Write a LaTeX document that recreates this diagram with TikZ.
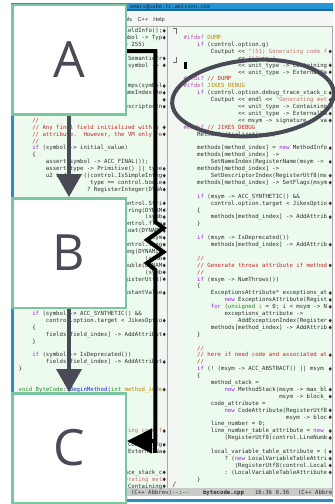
\documentclass[tikz,border=0pt]{standalone}
\usepackage{fontspec}
\setmonofont{DejaVu Sans Mono}
\newfontfamily\menufont{Liberation Sans}
\newfontfamily\letterfont{Open Sans}
\usetikzlibrary{arrows.meta}
\definecolor{mint}{HTML}{EDFAEE}
\definecolor{fringe}{HTML}{F3F5F3}
\definecolor{framebl}{HTML}{2A8DCB}
\definecolor{titlebl}{HTML}{2794D6}
\definecolor{menubg}{HTML}{F4F6F4}
\definecolor{modebg}{HTML}{C9CBC9}
\definecolor{divgray}{HTML}{A8ACA8}
\definecolor{codefg}{HTML}{2E2E2E}
\definecolor{kwc}{HTML}{A020F0}
\definecolor{ppc}{HTML}{C050C0}
\definecolor{vnc}{HTML}{B8860B}
\definecolor{cmc}{HTML}{C02828}
\definecolor{stc}{HTML}{C87070}
\definecolor{tyc}{HTML}{228B22}
\definecolor{fnc}{HTML}{2020E0}
\definecolor{boxgreen}{HTML}{78C79E}
\definecolor{ovgray}{HTML}{4A4A57}
\newcommand\kwd[1]{\textcolor{kwc}{#1}}
\newcommand\prep[1]{\textcolor{ppc}{#1}}
\newcommand\vnm[1]{\textcolor{vnc}{#1}}
\newcommand\cmt[1]{\textcolor{cmc}{#1}}
\newcommand\strg[1]{\textcolor{stc}{#1}}
\newcommand\typ[1]{\textcolor{tyc}{#1}}
\newcommand\fnm[1]{\textcolor{fnc}{#1}}
\newcommand\Lr[3]{\node[code] (L#1) at ({18.6+3.42*#2},{32.6+6.9*#1}) {#3};}
\newcommand\Rr[3]{\node[code] (R#1) at ({183.5+3.42*#2},{32.6+6.9*#1}) {#3};}
\newcommand\Ld[1]{\fill[codefg] (164.2,{30.8+6.9*#1}) +(-1.5,0) -- +(0,-1.9) -- +(1.5,0) -- +(0,1.9) -- cycle;}
\newcommand\Rd[1]{\fill[codefg] (330.2,{30.8+6.9*#1}) +(-1.5,0) -- +(0,-1.9) -- +(1.5,0) -- +(0,1.9) -- cycle;}
\tikzset{
  code/.style={anchor=base west, inner sep=0, outer sep=0, text=codefg,
    font=\ttfamily\fontsize{5.68}{6.9}\selectfont\frenchspacing},
  lbox/.style={draw=boxgreen, line width=2.5, fill=white, minimum width=113.5,
    minimum height=109.5, inner sep=0, text=ovgray,
    font=\letterfont\fontsize{50}{50}\selectfont},
  greyarrow/.style={draw=ovgray, line width=3.5, -{Triangle[length=23pt,width=25pt]}},
  blackline/.style={draw=black, line width=4},
  ringline/.style={draw=ovgray, line width=4},
}
\begin{document}
\begin{tikzpicture}[x=1pt,y=-1pt]
\useasboundingbox (0,0) rectangle (335,504);
\fill[white] (0,0) rectangle (335,504);
% frame
\fill[framebl] (11,3) rectangle (14,502);
\fill[framebl] (11,499) rectangle (333,502);
\fill[titlebl] (11,3) rectangle (333,10);
\fill[titlebl!70!black] (11,9.4) rectangle (333,10.6);
\fill[menubg] (14,10.6) rectangle (333,26);
\draw[divgray, line width=0.8] (14,26.4) -- (333,26.4);
\fill[fringe] (14,27) rectangle (17,488);
\fill[mint] (17,27) rectangle (161,488);
\fill[fringe] (161,27) rectangle (166.7,488);
\fill[divgray] (166.7,27) rectangle (168.3,488);
\fill[fringe] (168.3,27) rectangle (180,488);
\fill[mint] (180,27) rectangle (328.5,488);
\fill[fringe] (328.5,27) rectangle (331.5,488);
\draw[divgray, line width=0.8] (331.9,27) -- (331.9,497);
\fill[modebg] (14,488) rectangle (332,496);
\node[anchor=base, inner sep=0, text=black!85, font=\ttfamily\fontsize{5.3}{6}\selectfont] (title) at (170,8.6) {emacs@cube.tc.aeivion.com};
\node[anchor=base east, inner sep=0, text=black!80, font=\menufont\fontsize{5.6}{6}\selectfont] (menu) at (165,21.5)
  {File\hspace{5.5pt}Edit\hspace{5.5pt}Options\hspace{5.5pt}Buffers\hspace{5.5pt}Tools\hspace{5.5pt}C++\hspace{5pt}Help};
% left window
\Lr{0}{30}{FieldInfo();}\Ld{0}
\Lr{1}{29}{symbol -> Typ}\Ld{1}
\Lr{2}{31}{> 255)}
\Lr{4}{31}{(SemanticEr}\Ld{4}
\Lr{5}{32}{symbol ->}\Ld{5}
\Lr{8}{32}{mps(symbol}\Ld{8}
\Lr{9}{27}{SetNameIndex(Re}\Ld{9}
\Ld{10}
\Lr{11}{27}{SetDescriptorIn}\Ld{11}
\Lr{13}{4}{\cmt{//}}
\Lr{14}{4}{\cmt{// Any final field initialized with a}}\Ld{14}
\Lr{15}{4}{\cmt{// attribute.\ \ However, the VM only re}}\Ld{15}
\Lr{16}{4}{\cmt{//}}
\Lr{17}{4}{\kwd{if} (symbol -> initial\_value)}
\Lr{18}{4}{\{}
\Lr{19}{8}{assert(symbol -> ACC\_FINAL());}
\Lr{20}{8}{assert(type -> Primitive() || type}\Ld{20}
\Lr{21}{8}{u2 index = ((control.IsSimpleInteg}\Ld{21}
\Lr{22}{21}{type == control.boole}\Ld{22}
\Lr{23}{20}{? RegisterInteger(DYNA}\Ld{23}
\Lr{25}{30}{control.Stri}\Ld{25}
\Lr{26}{30}{String(DYNAM}\Ld{26}
\Lr{27}{37}{(symb}\Ld{27}
\Lr{28}{30}{control.floa}\Ld{28}
\Lr{29}{30}{Float(DYNAMI}\Ld{29}
\Lr{30}{38}{(sym}\Ld{30}
\Lr{31}{30}{control.long}\Ld{31}
\Lr{32}{30}{Long(DYNAMIC}\Ld{32}
\Lr{33}{37}{(symb}\Ld{33}
\Lr{34}{30}{Double(DYNAM}\Ld{34}
\Lr{35}{37}{(symb}\Ld{35}
\Lr{36}{29}{RegisterUtf8(}\Ld{36}
\Lr{38}{29}{ConstantValue}\Ld{38}
\Lr{41}{4}{\kwd{if} (symbol -> ACC\_SYNTHETIC() \&\&}
\Lr{42}{8}{control.option.target < JikesOptio}\Ld{42}
\Lr{43}{4}{\{}
\Lr{44}{8}{fields[field\_index] -> AddAttribut}\Ld{44}
\Lr{45}{4}{\}}
\Lr{47}{4}{\kwd{if} (symbol -> IsDeprecated())}
\Lr{48}{8}{fields[field\_index] -> AddAttribut}\Ld{48}
\Lr{49}{0}{\}}
\Lr{52}{0}{\typ{void} \typ{ByteCode}::\fnm{BeginMethod}(\typ{int} \vnm{method\_inde}}\Ld{52}
\Lr{58}{25}{\strg{Generating code f}}\Ld{58}
\Lr{60}{32}{Containing}\Ld{60}
\Lr{61}{32}{ExternalNa}\Ld{61}
\Lr{64}{29}{trace\_stack\_c}\Ld{64}
\Lr{65}{28}{\strg{Generating met}}\Ld{65}
\Lr{66}{32}{Containing}\Ld{66}
% right window
\draw[codefg!70, line width=0.6] (172.5,28.3) -| (176.5,34);
\draw[codefg!70, line width=0.6] (172.5,62) -| (176.5,56.5);
\draw[codefg!70, line width=0.6] (173,487) -- (175.5,481.5);
\fill[black] (183.5,61.8) rectangle (186.6,68.8);
\Rr{1}{0}{\prep{\#ifdef} \vnm{DUMP}}
\Rr{2}{4}{\kwd{if} (control.option.g)}
\Rr{3}{8}{Coutput << \strg{"(51) Generating code f}}\Rd{3}
\Rr{4}{16}{<< \strg{"\textbackslash" in "}}
\Rr{5}{16}{<< unit\_type -> Containing}\Rd{5}
\Rr{6}{16}{<< unit\_type -> ExternalNa}\Rd{6}
\Rr{7}{0}{\prep{\#endif} \cmt{// DUMP}}
\Rr{8}{0}{\prep{\#ifdef} \vnm{JIKES\_DEBUG}}
\Rr{9}{4}{\kwd{if} (control.option.debug\_trace\_stack\_c}\Rd{9}
\Rr{10}{8}{Coutput << endl << \strg{"Generating met}}\Rd{10}
\Rr{11}{16}{<< unit\_type -> Containing}\Rd{11}
\Rr{12}{16}{<< unit\_type -> ExternalNa}\Rd{12}
\Rr{13}{16}{<< msym -> signature -> va}\Rd{13}
\Rr{14}{0}{\prep{\#endif} \cmt{// JIKES\_DEBUG}}
\Rr{15}{4}{MethodInitialization();}
\Rr{17}{4}{methods[method\_index] = \kwd{new} MethodInfo}\Rd{17}
\Rr{18}{4}{methods[method\_index] ->}
\Rr{19}{8}{SetNameIndex(RegisterName(msym ->}\Rd{19}
\Rr{20}{4}{methods[method\_index] ->}
\Rr{21}{8}{SetDescriptorIndex(RegisterUtf8(ms}\Rd{21}
\Rr{22}{4}{methods[method\_index] -> SetFlags(msym}\Rd{22}
\Rr{24}{4}{\kwd{if} (msym -> ACC\_SYNTHETIC() \&\&}
\Rr{25}{8}{control.option.target < JikesOptio}\Rd{25}
\Rr{26}{4}{\{}
\Rr{27}{8}{methods[method\_index] -> AddAttrib}\Rd{27}
\Rr{28}{4}{\}}
\Rr{30}{4}{\kwd{if} (msym -> IsDeprecated())}
\Rr{31}{8}{methods[method\_index] -> AddAttrib}\Rd{31}
\Rr{33}{4}{\cmt{//}}
\Rr{34}{4}{\cmt{// Generate throws attribute if method}}\Rd{34}
\Rr{35}{4}{\cmt{//}}
\Rr{36}{4}{\kwd{if} (msym -> NumThrows())}
\Rr{37}{4}{\{}
\Rr{38}{8}{ExceptionsAttribute* exceptions\_at}\Rd{38}
\Rr{39}{12}{\kwd{new} ExceptionsAttribute(Regist}\Rd{39}
\Rr{40}{8}{\kwd{for} (\typ{unsigned} \vnm{i} = 0; i < msym -> N}\Rd{40}
\Rr{41}{12}{exceptions\_attribute ->}
\Rr{42}{16}{AddExceptionIndex(Register}\Rd{42}
\Rr{43}{8}{methods[method\_index] -> AddAttrib}\Rd{43}
\Rr{44}{4}{\}}
\Rr{46}{4}{\cmt{//}}
\Rr{47}{4}{\cmt{// here if need code and associated at}}\Rd{47}
\Rr{48}{4}{\cmt{//}}
\Rr{49}{4}{\kwd{if} (! (msym -> ACC\_ABSTRACT() || msym}\Rd{49}
\Rr{50}{4}{\{}
\Rr{51}{8}{method\_stack =}
\Rr{52}{12}{\kwd{new} MethodStack(msym -> max\_bl}\Rd{52}
\Rr{53}{28}{msym -> block\_}\Rd{53}
\Rr{54}{8}{code\_attribute =}
\Rr{55}{12}{\kwd{new} CodeAttribute(RegisterUtf8}\Rd{55}
\Rr{56}{30}{msym -> bloc}\Rd{56}
\Rr{57}{8}{line\_number = 0;}
\Rr{58}{8}{line\_number\_table\_attribute = \kwd{new}}\Rd{58}
\Rr{59}{12}{(RegisterUtf8(control.LineNumb}\Rd{59}
\Rr{61}{8}{local\_variable\_table\_attribute = (}\Rd{61}
\Rr{62}{12}{? (\kwd{new} LocalVariableTableAttri}\Rd{62}
\Rr{63}{15}{(RegisterUtf8(control.Local}\Rd{63}
\Rr{64}{12}{: (LocalVariableTableAttribute}\Rd{64}
\Rr{65}{4}{\}}
% mode line
\node[code] (modeL) at (131,494) {(C++ Abbrev)--:--};
\node[code, font=\ttfamily\bfseries\fontsize{5.68}{6.9}\selectfont] (modeF) at (203,494) {bytecode.cpp};
\node[code] (modeP) at (255,494) {16:36 0.36};
\node[code] (modeM) at (298,494) {(C++ Abbre};
% overlay boxes
\node[lbox] (A) at (69,59.5) {A};
\node[lbox] (B) at (69,253) {B};
\node[lbox] (C) at (69,448) {C};
\draw[greyarrow] (A) -- (B);
\draw[greyarrow] (B) -- (C);
% black connector with zigzag
\coordinate (bs) at ([yshift=8.5pt]A.east);
\coordinate (be) at ([yshift=7pt]C.east);
\draw[blackline, -{Triangle[length=25pt,width=24pt]}] (bs) -- (155.3,51) -- (155.3,222)
  -- (163.5,228) -- (147,240) -- (163.5,252) -- (147,263) -- (155.3,270)
  -- (155.3,441) -- (be);
\draw[blackline] (155.3,440) -- (155.3,453);
% ellipse
\draw[ringline, rotate around={4:(253,98)}] (253,98) ellipse [x radius=81, y radius=38];
\end{tikzpicture}
\end{document}
